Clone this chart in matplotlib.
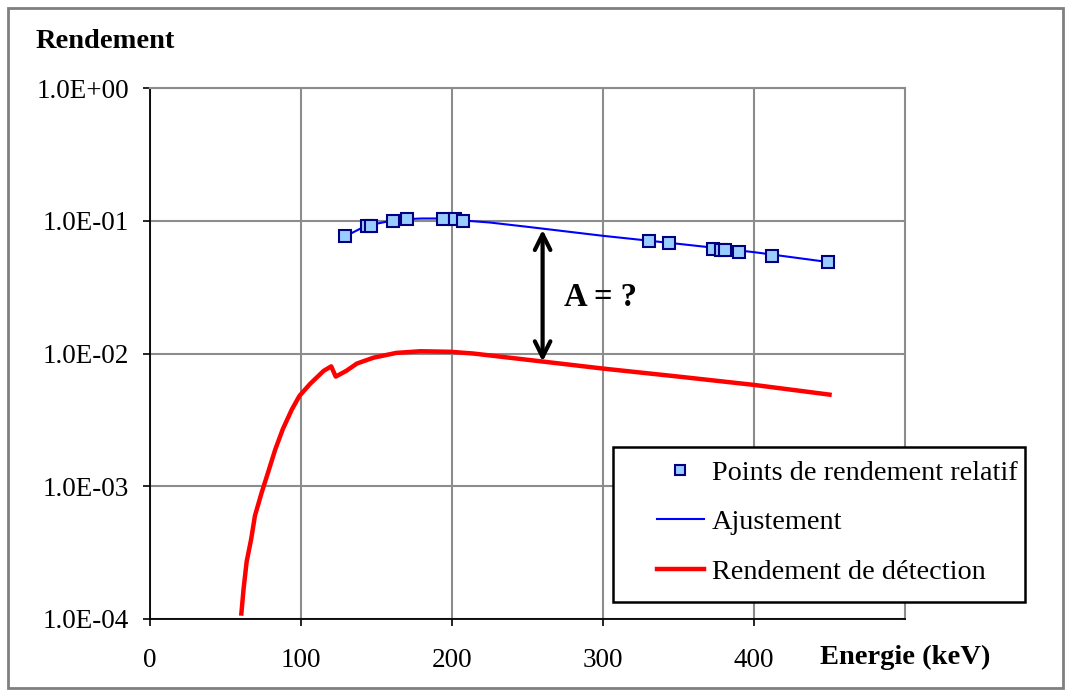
import matplotlib
matplotlib.use("Agg")
import matplotlib.pyplot as plt
from matplotlib.patches import Rectangle
from matplotlib.lines import Line2D

# Data
pts_x = [129, 143.5, 146.4, 161, 170.4, 194.3, 202, 207.5, 330.7, 344, 373, 378, 381, 390.3, 411.7, 448.8]
pts_y = [0.0762, 0.0906, 0.0906, 0.100, 0.1035, 0.1035, 0.1035, 0.100, 0.070, 0.068, 0.0616, 0.0598, 0.0598, 0.0578, 0.054, 0.0486]

fit_x = [129, 140, 150, 160, 170, 180, 190, 200, 225, 250, 300, 350, 400, 450]
fit_y = [0.076, 0.088, 0.095, 0.100, 0.103, 0.104, 0.104, 0.102, 0.097, 0.090, 0.077, 0.067, 0.058, 0.0487]

det_x = [60.5, 62, 64, 67, 69.5, 74, 77.5, 83, 88, 94, 99, 106, 115, 120, 123, 130, 137, 148, 163, 179, 199, 214, 260, 300, 350, 400, 450]
det_y = [0.00011, 0.00017, 0.00027, 0.0004, 0.0006, 0.0009, 0.0012, 0.0019, 0.0027, 0.0038, 0.0048, 0.0059,
         0.0074, 0.0080, 0.0067, 0.0074, 0.0084, 0.0093, 0.0101, 0.0104, 0.0103, 0.0100, 0.0087, 0.0077,
         0.0067, 0.0058, 0.0049]

x_ticks = [0, 100, 200, 300, 400]
y_ticks = [1e-4, 1e-3, 1e-2, 1e-1, 1e0]
y_labels = ["1.0E-04", "1.0E-03", "1.0E-02", "1.0E-01", "1.0E+00"]

arrow_x = 260
arrow_top = 0.0855
arrow_bot = 0.0087

plt.rcParams['font.family'] = ['Liberation Serif', 'DejaVu Serif']

W, H = 1066, 691
fig = plt.figure(figsize=(W/100, H/100), dpi=100)
ax = fig.add_axes([150/W, 1-619/H, (905-150)/W, (619-88)/H])

ax.set_yscale('log')
ax.set_xlim(0, 500)
ax.set_ylim(1e-4, 1e0)

ax.plot(fit_x, fit_y, color='#0000FF', lw=1.5, zorder=3)
ax.plot(pts_x, pts_y, ls='none', marker='s', markersize=9, markerfacecolor='#99CCFF',
        markeredgecolor='#000080', markeredgewidth=1.5, zorder=4)
ax.plot(det_x, det_y, color='#FF0000', lw=3.2, zorder=3)

ax.annotate('', xy=(arrow_x, arrow_top), xytext=(arrow_x, arrow_bot),
            arrowprops=dict(arrowstyle='<->', color='black', lw=3, mutation_scale=28,
                            shrinkA=0, shrinkB=0), zorder=5)
ax.text(564/W, 1-298/H, 'A = ?', fontsize=23.5, fontweight='bold', ha='left', va='center',
        transform=fig.transFigure)

ax.set_xticks(x_ticks)
ax.set_xticklabels([str(v) for v in x_ticks])
ax.set_yticks(y_ticks)
ax.set_yticklabels(y_labels)
ax.yaxis.set_minor_locator(matplotlib.ticker.NullLocator())
ax.tick_params(axis='both', labelsize=19.5, length=5, width=1.2, direction='out', colors='black')
ax.tick_params(axis='x', pad=16)
ax.tick_params(axis='y', pad=10)

ax.grid(True, which='major', color='#8c8c8c', lw=1.5)
ax.set_axisbelow(True)
for s in ['top', 'right']:
    ax.spines[s].set_color('#8c8c8c')
    ax.spines[s].set_linewidth(1.5)
for s in ['left', 'bottom']:
    ax.spines[s].set_color('black')
    ax.spines[s].set_linewidth(1.3)

fig.text(36/W, 1-42/H, 'Rendement', fontsize=20.5, fontweight='bold', ha='left', va='center')
fig.text(820/W, 1-657/H, 'Energie (keV)', fontsize=20.5, fontweight='bold', ha='left', va='center')

# legend box
fig.patches.append(Rectangle((613/W, 1-602/H), (1025-613)/W, (602-447)/H, transform=fig.transFigure,
                             facecolor='white', edgecolor='black', lw=1.8, zorder=10))
handles = [
    Line2D([], [], ls='none', marker='s', markersize=7, markerfacecolor='#99CCFF',
           markeredgecolor='#000080', markeredgewidth=1.5),
    Line2D([], [], color='#0000FF', lw=1.5),
    Line2D([], [], color='#FF0000', lw=3.2),
]
labels = ['Points de rendement relatif', 'Ajustement', 'Rendement de détection']
leg = fig.legend(handles, labels, loc='upper left', bbox_to_anchor=(657/W, 1-460/H),
                 fontsize=20.3, frameon=False, borderpad=0, borderaxespad=0,
                 handlelength=1.65, labelspacing=0.84, handletextpad=0.3)
leg.set_zorder(11)

fig.patches.append(Rectangle((8/W, 3/H), 1055/W, 680/H, transform=fig.transFigure,
                             fill=False, edgecolor='#7f7f7f', lw=2))

fig.savefig('out.png', dpi=100)
